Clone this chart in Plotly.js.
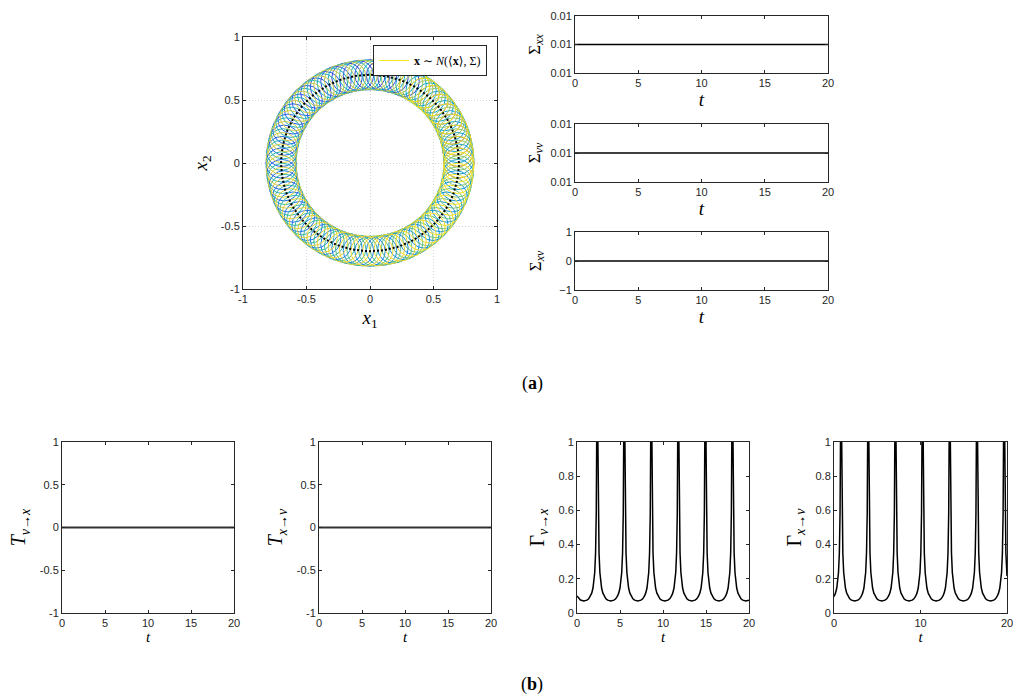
<!DOCTYPE html>
<html>
<head>
<meta charset="utf-8">
<script src="https://cdn.plot.ly/plotly-3.0.1.min.js"></script>
<style>html,body{margin:0;padding:0;background:#fff;}#chart{width:1021px;height:696px;}</style>
</head>
<body>
<div id="chart"></div>
<script>
// ---- data: mean trajectory <x> (x1, x2), sampled every 2.5 degrees of phase ----
const meanX = [0.700,0.699,0.697,0.694,0.689,0.683,0.676,0.668,0.658,0.647,0.634,0.621,0.606,0.590,0.573,0.555,0.536,0.516,0.495,0.473,0.450,0.426,0.402,0.376,0.350,0.323,0.296,0.268,0.239,0.210,0.181,0.152,0.122,0.091,0.061,0.031,0.000,
  -0.031,-0.061,-0.091,-0.122,-0.152,-0.181,-0.210,-0.239,-0.268,-0.296,-0.323,-0.350,-0.376,-0.402,-0.426,-0.450,-0.473,-0.495,-0.516,-0.536,-0.555,-0.573,-0.590,-0.606,-0.621,-0.634,-0.647,-0.658,-0.668,-0.676,-0.683,-0.689,-0.694,-0.697,-0.699,-0.700,
  -0.699,-0.697,-0.694,-0.689,-0.683,-0.676,-0.668,-0.658,-0.647,-0.634,-0.621,-0.606,-0.590,-0.573,-0.555,-0.536,-0.516,-0.495,-0.473,-0.450,-0.426,-0.402,-0.376,-0.350,-0.323,-0.296,-0.268,-0.239,-0.210,-0.181,-0.152,-0.122,-0.091,-0.061,-0.031,0.000,
  0.031,0.061,0.091,0.122,0.152,0.181,0.210,0.239,0.268,0.296,0.323,0.350,0.376,0.402,0.426,0.450,0.473,0.495,0.516,0.536,0.555,0.573,0.590,0.606,0.621,0.634,0.647,0.658,0.668,0.676,0.683,0.689,0.694,0.697,0.699,0.700];
const meanY = [0.000,0.031,0.061,0.091,0.122,0.152,0.181,0.210,0.239,0.268,0.296,0.323,0.350,0.376,0.402,0.426,0.450,0.473,0.495,0.516,0.536,0.555,0.573,0.590,0.606,0.621,0.634,0.647,0.658,0.668,0.676,0.683,0.689,0.694,0.697,0.699,0.700,
  0.699,0.697,0.694,0.689,0.683,0.676,0.668,0.658,0.647,0.634,0.621,0.606,0.590,0.573,0.555,0.536,0.516,0.495,0.473,0.450,0.426,0.402,0.376,0.350,0.323,0.296,0.268,0.239,0.210,0.181,0.152,0.122,0.091,0.061,0.031,0.000,
  -0.031,-0.061,-0.091,-0.122,-0.152,-0.181,-0.210,-0.239,-0.268,-0.296,-0.323,-0.350,-0.376,-0.402,-0.426,-0.450,-0.473,-0.495,-0.516,-0.536,-0.555,-0.573,-0.590,-0.606,-0.621,-0.634,-0.647,-0.658,-0.668,-0.676,-0.683,-0.689,-0.694,-0.697,-0.699,-0.700,
  -0.699,-0.697,-0.694,-0.689,-0.683,-0.676,-0.668,-0.658,-0.647,-0.634,-0.621,-0.606,-0.590,-0.573,-0.555,-0.536,-0.516,-0.495,-0.473,-0.450,-0.426,-0.402,-0.376,-0.350,-0.323,-0.296,-0.268,-0.239,-0.210,-0.181,-0.152,-0.122,-0.091,-0.061,-0.031,0.000];
// ensemble ellipses in time order (index into the mean trajectory samples), ~3.2 revolutions
const circleIdx = [
  0,3,6,9,12,15,18,21,24,27,30,33,36,39,42,45,48,51,54,57,60,63,66,69,72,75,78,81,84,87,90,93,96,99,102,105,108,111,114,117,120,123,126,129,132,135,138,141,
  1,4,7,10,13,16,19,22,25,28,31,34,37,40,43,46,49,52,55,58,61,64,67,70,73,76,79,82,85,88,91,94,97,100,103,106,109,112,115,118,121,124,127,130,133,136,139,142,
  2,5,8,11,14,17,20,23,26,29,32,35,38,41,44,47,50,53,56,59,62,65,68,71,74,77,80,83,86,89,92,95,98,101,104,107,110,113,116,119,122,125,128,131,134,137,140,143,
  0,3,6,9,12,15,18,21,24];

// ---- covariance components and transfer entropies vs time ----
const tFlat = [0, 5, 10, 15, 20];
const sigmaXX = [0.01, 0.01, 0.01, 0.01, 0.01];
const sigmaVV = [0.01, 0.01, 0.01, 0.01, 0.01];
const sigmaXV = [0, 0, 0, 0, 0];
const transferVX = [0, 0, 0, 0, 0];
const transferXV = [0, 0, 0, 0, 0];

// ---- Gamma_{v->x} ----
const gvxT = [0, 0.40, 0.79,
 1.16,1.36,1.56,1.71,1.86,1.96,2.06,2.16,2.24,2.29,2.36,2.43,2.48,2.56,2.66,2.76,2.86,3.01,3.16,3.36,3.56, 3.93,
 4.30,4.50,4.70,4.85,5.00,5.10,5.20,5.30,5.38,5.43,5.50,5.57,5.62,5.70,5.80,5.90,6.00,6.15,6.30,6.50,6.70, 7.07,
 7.44,7.64,7.84,7.99,8.14,8.24,8.34,8.44,8.52,8.57,8.64,8.71,8.76,8.84,8.94,9.04,9.14,9.29,9.44,9.64,9.84, 10.21,
 10.58,10.78,10.98,11.13,11.28,11.38,11.48,11.58,11.66,11.71,11.78,11.85,11.90,11.98,12.08,12.18,12.28,12.43,12.58,12.78,12.98, 13.35,
 13.73,13.93,14.13,14.28,14.43,14.53,14.63,14.73,14.81,14.86,14.93,15.00,15.05,15.13,15.23,15.33,15.43,15.58,15.73,15.93,16.13, 16.50,
 16.87,17.07,17.27,17.42,17.57,17.67,17.77,17.87,17.95,18.00,18.07,18.14,18.19,18.27,18.37,18.47,18.57,18.72,18.87,19.07,19.27, 19.64, 20.00];
const gvxV = [0.100, 0.076, 0.070,
 0.075,0.083,0.098,0.116,0.146,0.180,0.237,0.352,0.585,1.000,1.500,1.000,0.585,0.352,0.237,0.180,0.146,0.116,0.098,0.083,0.075, 0.070,
 0.075,0.083,0.098,0.116,0.146,0.180,0.237,0.352,0.585,1.000,1.500,1.000,0.585,0.352,0.237,0.180,0.146,0.116,0.098,0.083,0.075, 0.070,
 0.075,0.083,0.098,0.116,0.146,0.180,0.237,0.352,0.585,1.000,1.500,1.000,0.585,0.352,0.237,0.180,0.146,0.116,0.098,0.083,0.075, 0.070,
 0.075,0.083,0.098,0.116,0.146,0.180,0.237,0.352,0.585,1.000,1.500,1.000,0.585,0.352,0.237,0.180,0.146,0.116,0.098,0.083,0.075, 0.070,
 0.075,0.083,0.098,0.116,0.146,0.180,0.237,0.352,0.585,1.000,1.500,1.000,0.585,0.352,0.237,0.180,0.146,0.116,0.098,0.083,0.075, 0.070,
 0.075,0.083,0.098,0.116,0.146,0.180,0.237,0.352,0.585,1.000,1.500,1.000,0.585,0.352,0.237,0.180,0.146,0.116,0.098,0.083,0.075, 0.070, 0.075];

// ---- Gamma_{x->v} ----
const gxvT = [0, 0.17,0.32,0.42,0.52,0.62,0.70,0.75,0.82,0.89,0.94,1.02,1.12,1.22,1.32,1.47,1.62,1.82,2.02, 2.39,
 2.76,2.96,3.16,3.31,3.46,3.56,3.66,3.76,3.84,3.89,3.96,4.03,4.08,4.16,4.26,4.36,4.46,4.61,4.76,4.96,5.16, 5.53,
 5.90,6.10,6.30,6.45,6.60,6.70,6.80,6.90,6.98,7.03,7.10,7.17,7.22,7.30,7.40,7.50,7.60,7.75,7.90,8.10,8.30, 8.67,
 9.04,9.24,9.44,9.59,9.74,9.84,9.94,10.04,10.12,10.17,10.24,10.31,10.36,10.44,10.54,10.64,10.74,10.89,11.04,11.24,11.44, 11.81,
 12.18,12.38,12.58,12.73,12.88,12.98,13.08,13.18,13.26,13.31,13.38,13.45,13.50,13.58,13.68,13.78,13.88,14.03,14.18,14.38,14.58, 14.95,
 15.33,15.53,15.73,15.88,16.03,16.13,16.23,16.33,16.41,16.46,16.53,16.60,16.65,16.73,16.83,16.93,17.03,17.18,17.33,17.53,17.73, 18.10,
 18.47,18.67,18.87,19.02,19.17,19.27,19.37,19.47,19.55,19.60,19.67,19.74,19.79,19.87, 20.00];
const gxvV = [0.096, 0.116,0.146,0.180,0.237,0.352,0.585,1.000,1.500,1.000,0.585,0.352,0.237,0.180,0.146,0.116,0.098,0.083,0.075, 0.070,
 0.075,0.083,0.098,0.116,0.146,0.180,0.237,0.352,0.585,1.000,1.500,1.000,0.585,0.352,0.237,0.180,0.146,0.116,0.098,0.083,0.075, 0.070,
 0.075,0.083,0.098,0.116,0.146,0.180,0.237,0.352,0.585,1.000,1.500,1.000,0.585,0.352,0.237,0.180,0.146,0.116,0.098,0.083,0.075, 0.070,
 0.075,0.083,0.098,0.116,0.146,0.180,0.237,0.352,0.585,1.000,1.500,1.000,0.585,0.352,0.237,0.180,0.146,0.116,0.098,0.083,0.075, 0.070,
 0.075,0.083,0.098,0.116,0.146,0.180,0.237,0.352,0.585,1.000,1.500,1.000,0.585,0.352,0.237,0.180,0.146,0.116,0.098,0.083,0.075, 0.070,
 0.075,0.083,0.098,0.116,0.146,0.180,0.237,0.352,0.585,1.000,1.500,1.000,0.585,0.352,0.237,0.180,0.146,0.116,0.098,0.083,0.075, 0.070,
 0.075,0.083,0.098,0.116,0.146,0.180,0.237,0.352,0.585,1.000,1.500,1.000,0.585,0.352, 0.216];

// ---- tick labels ----
const ringTicks = [-1, -0.5, 0, 0.5, 1];
const ringTickText = ['-1', '-0.5', '0', '0.5', '1'];
const tTicks = [0, 5, 10, 15, 20];
const tTicksSparse = [0, 10, 20];
const sigmaTickVals = [0.0099999, 0.01, 0.0100001];
const sigmaTickText = ['0.01', '0.01', '0.01'];
const unitTicks = [-1, 0, 1];
const halfTicks = [-1, -0.5, 0, 0.5, 1];
const halfTickText = ['-1', '-0.5', '0', '0.5', '1'];
const gammaTicks = [0, 0.2, 0.4, 0.6, 0.8, 1];
const gammaTickText = ['0', '0.2', '0.4', '0.6', '0.8', '1'];

// ---- styling ----
const INK = '#262626';
const SERIF = 'Liberation Serif, DejaVu Serif, serif';
const SANS = 'Liberation Sans, Arial, sans-serif';
const W = 1021, H = 696;
const R = 0.12; // ellipse radius (size)
const cmap = [[0,[62,38,168]],[0.125,[40,90,235]],[0.25,[20,140,220]],[0.375,[20,170,200]],[0.5,[50,185,160]],
  [0.625,[130,195,110]],[0.75,[200,200,70]],[0.875,[240,215,45]],[1,[249,240,20]]];
function cmapColor(f){
  for (let i=1;i<cmap.length;i++){
    if (f<=cmap[i][0]){
      const a=cmap[i-1], b=cmap[i]; const u=(f-a[0])/(b[0]-a[0]);
      const c=a[1].map((v,k)=>Math.round(v+(b[1][k]-v)*u));
      return 'rgb('+c.join(',')+')';
    }
  }
  return 'rgb(249,240,20)';
}
function px(x0,x1){return [x0/W, x1/W];}
function py(top,bottom){return [1-bottom/H, 1-top/H];}

function axis(extra){
  return Object.assign({
    showline:true, linecolor:INK, linewidth:1, mirror:'ticks', ticks:'inside', ticklen:3, tickwidth:1,
    tickcolor:INK, zeroline:false, showgrid:false, fixedrange:true,
    tickfont:{family:SANS, size:11, color:INK}
  }, extra);
}
function ttl(text,size,standoff,italic){
  return {text:text, font:{family:SERIF,size:size,color:'#000', style: italic ? 'italic' : 'normal'}, standoff:standoff};
}

const traces = [];
// mean trajectory (dotted)
traces.push({x:meanX, y:meanY, xaxis:'x', yaxis:'y', type:'scatter', mode:'lines',
  line:{color:'#000', width:2, dash:'2px,2px'}, showlegend:false, hoverinfo:'skip'});
// legend entry for the ensemble
traces.push({x:[null], y:[null], xaxis:'x', yaxis:'y', type:'scatter', mode:'lines',
  line:{color:'rgb(245,235,30)', width:1}, name:'<b>x</b> ∼ <i>N</i>(⟨<b>x</b>⟩, Σ)', showlegend:true});

const flat = (y, ax, w, c) => ({x:tFlat, y:y, xaxis:'x'+ax, yaxis:'y'+ax, type:'scatter', mode:'lines',
  line:{color:c||'#000', width:w||1.5}, showlegend:false, hoverinfo:'skip'});
traces.push(flat(sigmaXX, 2));
traces.push(flat(sigmaVV, 3));
traces.push(flat(sigmaXV, 4));
traces.push(flat(transferVX, 5, 2, '#333'));
traces.push(flat(transferXV, 6, 2, '#333'));
traces.push({x:gvxT, y:gvxV, xaxis:'x7', yaxis:'y7', type:'scatter', mode:'lines', line:{color:'#000', width:1.5}, showlegend:false, hoverinfo:'skip'});
traces.push({x:gxvT, y:gxvV, xaxis:'x8', yaxis:'y8', type:'scatter', mode:'lines', line:{color:'#000', width:1.5}, showlegend:false, hoverinfo:'skip'});

// ensemble ellipses as shapes on the data axes
const shapes = circleIdx.map((k,i)=>({
  type:'circle', xref:'x', yref:'y', layer:'between',
  x0:meanX[k]-R, x1:meanX[k]+R, y0:meanY[k]-R, y1:meanY[k]+R,
  line:{color:cmapColor(i/(circleIdx.length-1)), width:1}
}));

const rightX = px(575, 828);
const layout = {
  width:W, height:H, margin:{l:0,r:0,t:0,b:0}, paper_bgcolor:'#fff', plot_bgcolor:'#fff',
  font:{family:SANS, size:11, color:INK},
  showlegend:true,
  legend:{x:373/W, y:1-45/H, xanchor:'left', yanchor:'top', bgcolor:'#fff', bordercolor:INK, borderwidth:1,
    font:{family:SERIF, size:12, color:'#000'}, itemwidth:30, tracegroupgap:0},
  xaxis: axis({domain:px(243,497), range:[-1,1], tickvals:ringTicks, ticktext:ringTickText,
    showgrid:true, gridcolor:'#d6d6d6', griddash:'1px,2px', gridwidth:1, title:ttl('<i>x</i><sub>1</sub>',19,6)}),
  yaxis: axis({domain:py(37,289), range:[-1,1], tickvals:ringTicks, ticktext:ringTickText,
    showgrid:true, gridcolor:'#d6d6d6', griddash:'1px,2px', gridwidth:1, title:ttl('<i>x</i><sub>2</sub>',19,8)}),
  xaxis2: axis({domain:rightX, range:[0,20], tickvals:tTicks, anchor:'y2', title:ttl('t',19,2,true)}),
  yaxis2: axis({domain:py(16,73), range:[sigmaTickVals[0], sigmaTickVals[2]], tickvals:sigmaTickVals, ticktext:sigmaTickText, anchor:'x2', title:ttl('Σ<sub><i>xx</i></sub>',17,5)}),
  xaxis3: axis({domain:rightX, range:[0,20], tickvals:tTicks, anchor:'y3', title:ttl('t',19,2,true)}),
  yaxis3: axis({domain:py(124,182), range:[sigmaTickVals[0], sigmaTickVals[2]], tickvals:sigmaTickVals, ticktext:sigmaTickText, anchor:'x3', title:ttl('Σ<sub><i>vv</i></sub>',17,5)}),
  xaxis4: axis({domain:rightX, range:[0,20], tickvals:tTicks, anchor:'y4', title:ttl('t',19,2,true)}),
  yaxis4: axis({domain:py(232,290), range:[-1,1], tickvals:unitTicks, anchor:'x4', title:ttl('Σ<sub><i>xv</i></sub>',17,13)}),
  xaxis5: axis({domain:px(62,234), range:[0,20], tickvals:tTicks, anchor:'y5', title:ttl('t',15,2,true)}),
  yaxis5: axis({domain:py(442,613), range:[-1,1], tickvals:halfTicks, ticktext:halfTickText, anchor:'x5', title:ttl('<i>T</i><sub><i>v</i>→<i>x</i></sub>',20,8)}),
  xaxis6: axis({domain:px(319,491), range:[0,20], tickvals:tTicks, anchor:'y6', title:ttl('t',15,2,true)}),
  yaxis6: axis({domain:py(442,613), range:[-1,1], tickvals:halfTicks, ticktext:halfTickText, anchor:'x6', title:ttl('<i>T</i><sub><i>x</i>→<i>v</i></sub>',20,8)}),
  xaxis7: axis({domain:px(577,749), range:[0,20], tickvals:tTicks, anchor:'y7', title:ttl('t',15,2,true)}),
  yaxis7: axis({domain:py(442,613), range:[0,1], tickvals:gammaTicks, ticktext:gammaTickText, anchor:'x7', title:ttl('Γ<sub><i>v</i>→<i>x</i></sub>',20,8)}),
  xaxis8: axis({domain:px(834,1007), range:[0,20], tickvals:tTicksSparse, anchor:'y8', title:ttl('t',15,2,true)}),
  yaxis8: axis({domain:py(442,613), range:[0,1], tickvals:gammaTicks, ticktext:gammaTickText, anchor:'x8', title:ttl('Γ<sub><i>x</i>→<i>v</i></sub>',20,8)}),
  shapes: shapes,
  annotations:[
    {text:'(<b>a</b>)', x:532/W, y:1-383/H, xref:'paper', yref:'paper', showarrow:false, xanchor:'center', yanchor:'middle', font:{family:SERIF, size:18, color:'#000'}},
    {text:'(<b>b</b>)', x:532/W, y:1-684/H, xref:'paper', yref:'paper', showarrow:false, xanchor:'center', yanchor:'middle', font:{family:SERIF, size:18, color:'#000'}}
  ]
};
Plotly.newPlot('chart', traces, layout, {displayModeBar:false, staticPlot:true});
</script>
</body>
</html>
